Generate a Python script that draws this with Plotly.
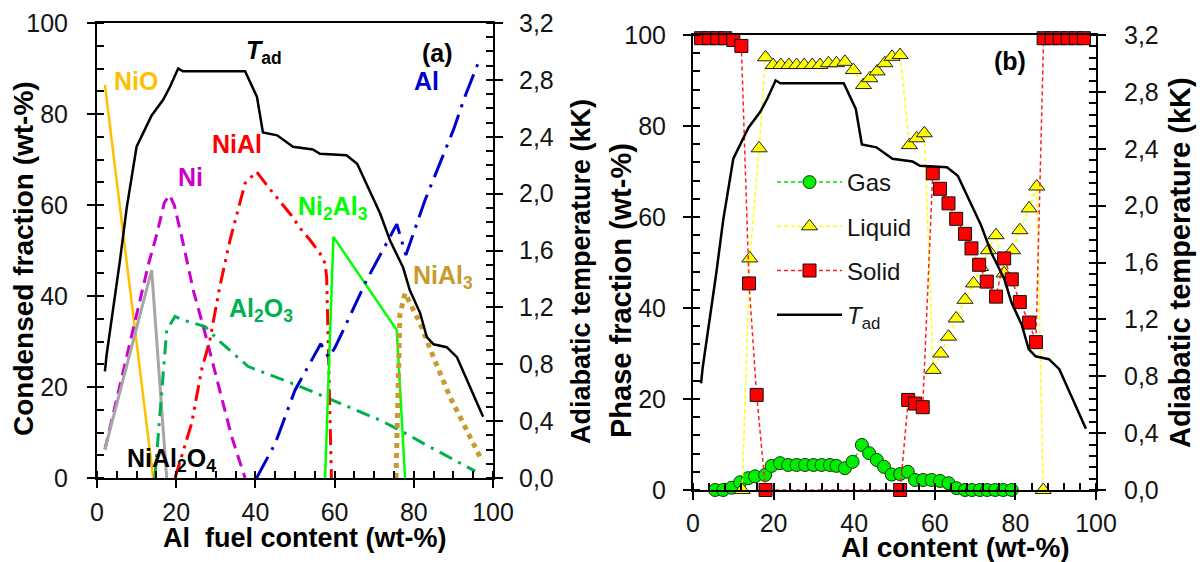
import plotly.graph_objects as go

W, H = 1202, 562
FONT = "Liberation Sans, Arial, sans-serif"

# ---------------- data: panel (a) ----------------
tad_x = [2, 2.4, 5.8, 7.5, 10, 13.8, 16.7, 18.4, 20.5, 21.7, 37.4, 40.4, 41.9, 45.5, 49.5, 54.5, 56.3,
         63, 65.7, 68.9, 71.5, 74, 77.3, 79, 81.6, 83.3, 85, 88.3, 90.9, 94.2, 97.5]
tad_kK = [0.75, 0.86, 1.53, 1.9, 2.33, 2.55, 2.66, 2.75, 2.88, 2.86, 2.86, 2.68, 2.43, 2.41, 2.33, 2.31, 2.28,
          2.27, 2.21, 2.02, 1.86, 1.67, 1.48, 1.32, 1.16, 0.99, 0.94, 0.92, 0.85, 0.64, 0.43]

nio_x = [2, 14.2]
nio_y = [86.4, 0]

ni_x = [2, 13, 15.1, 17, 18.3, 19.5, 21.4, 24.3, 27.3, 30.6, 34, 37.4]
ni_y = [6.3, 47, 53.6, 60.5, 62.2, 60, 53, 41.3, 31.8, 20.8, 9.1, 0]

nial2o4_x = [2, 13.8, 17.6]
nial2o4_y = [6.3, 45.7, 0]

al2o3_x = [14.6, 16.7, 17.6, 19.7, 21.8, 27.3, 30.6, 38.2, 47.5, 51.3, 61.4, 71.5, 76.5, 82.4, 95.5]
al2o3_y = [0, 23.7, 32.5, 35.5, 34.7, 33.3, 30.3, 24.5, 21.5, 20.1, 16.4, 12.7, 10.5, 7.6, 1.5]

nial_x = [19.7, 23.9, 26.4, 28.5, 31, 33.6, 37.4, 40.3, 43.2, 49, 51.3, 53.8, 56.3, 57.6, 58, 58.6, 59.2]
nial_y = [0, 12, 23.7, 30.3, 42, 52.3, 64.8, 67.3, 64, 57.8, 54.9, 52.3, 49.4, 47.2, 44, 20, 0]

ni2al3_x = [57.6, 59.7, 75.7, 77.8]
ni2al3_y = [0, 53, 32.5, 0]

al_x = [40.3, 45, 50, 56.5, 58.5, 60, 62.2, 68.1, 75.7, 78, 82.8, 90, 92.9, 96.7]
al_y = [0, 7.6, 19.3, 29.5, 26.5, 28.5, 32.5, 43.5, 55.8, 49, 61, 76.5, 83.8, 92.2]

nial3_x = [75.5, 76, 76.5, 77.8, 81.6, 84.9, 89.1, 92.5, 96.7]
nial3_y = [0, 20, 36, 40.6, 34, 26.7, 17.9, 12, 4.7]

# ---------------- data: panel (b) ----------------
gas_x = [5.5, 7.5, 9.6, 11.7, 13.7, 15.4, 17.9, 19.5, 21.6, 23.6, 25.7, 27.8, 29.9, 31.9, 34, 35.6, 37.7,
         39.6, 41.9, 43.7, 45.6, 47.4, 49.3, 51.4, 53.3, 55.1, 57.1, 59.2, 61.3, 63.4, 65.4, 67.5, 69.2,
         71.2, 73, 75, 77, 79.1]
gas_y = [0, 0, 0.5, 1.7, 2.6, 3, 3.3, 5.3, 5.9, 5.5, 5.5, 5.5, 5.5, 5.5, 5.5, 5.3, 4.8,
         6.2, 9.9, 8.1, 6.6, 5.1, 3.4, 3.5, 4, 2.2, 2.2, 2.2, 2, 1.5, 0.4, 0, 0,
         0, 0, 0, 0, 0]

liq_x = [12.2, 14.1, 16.4, 18, 19.9, 21.8, 23.8, 25.7, 27.6, 29.6, 31.5, 33.6, 35.6, 37.7, 39.8, 42.3,
         43.9, 45.7, 47.6, 49.4, 51.4, 53.7, 55.5, 57.4, 59.6, 61.5, 63.4, 65.3, 67.5, 69.6, 71.4, 73.3,
         75.2, 77.2, 79.3, 81.1, 83.4, 85.3, 86.9]
liq_y = [0, 50.9, 75.1, 95.1, 93.4, 93.4, 93.4, 93.4, 93.4, 93.4, 93.4, 93.8, 93.8, 94.1, 92.3, 89,
         90.5, 92, 93.8, 95.2, 95.6, 75.8, 77.3, 78.4, 26.4, 30, 33.7, 37.7, 41.8, 45.4, 49, 52.7,
         56, 47.6, 52.7, 57.1, 61.9, 66.7, 0]

sol_x = [2, 4, 6, 8, 10, 12, 13.9, 15.8, 18, 51.4, 53.4, 55.1, 57, 59.5, 61.3, 63.4, 65.3, 67.5, 69.1,
         71, 72.9, 75.2, 77.2, 79.1, 81.1, 83.4, 85.1, 87, 89, 91, 93, 95, 97]
sol_y = [99.3, 99.3, 99.3, 99.3, 98.9, 97.6, 45.4, 20.9, 0, 0, 19.8, 19, 18.2, 69.6, 66.2, 63, 59.6, 56.3,
         53.1, 49.5, 45.8, 42.5, 50.9, 46.3, 41.3, 36.8, 32.5, 99.3, 99.3, 99.3, 99.3, 99.3, 99.3]

tick_major = [0, 20, 40, 60, 80, 100]

fig = go.Figure()


def line(x, y, color, width, dash, xa, ya):
    fig.add_trace(go.Scatter(x=x, y=y, mode="lines", xaxis=xa, yaxis=ya, showlegend=False,
                             line=dict(color=color, width=width, dash=dash), hoverinfo="skip"))


# panel (a)
line(nio_x, nio_y, "#FFC000", 2.5, "solid", "x", "y")
line(ni_x, ni_y, "#CC00CC", 3, "12px,7px", "x", "y")
line(nial2o4_x, nial2o4_y, "#A6A6A6", 3, "solid", "x", "y")
line(al2o3_x, al2o3_y, "#00B050", 3, "14px,7px,3px,7px", "x", "y")
line(nial_x, nial_y, "#FF0000", 3, "16px,6px,3px,6px,3px,6px", "x", "y")
line(ni2al3_x, ni2al3_y, "#00FF00", 2.5, "solid", "x", "y")
line(al_x, al_y, "#0000CC", 3, "24px,8px,3px,8px", "x", "y")
line(nial3_x, nial3_y, "#C89B2E", 5, "5px,5px", "x", "y")
line(tad_x, tad_kK, "black", 2.5, "solid", "x", "y2")

# panel (b)
fig.add_trace(go.Scatter(x=gas_x, y=gas_y, name="Gas", mode="lines+markers", xaxis="x2", yaxis="y3",
                         legendgroup="g", cliponaxis=False,
                         line=dict(color="#00E000", width=1.5, dash="4px,3px"),
                         marker=dict(symbol="circle", size=13, color="#00EE00",
                                     line=dict(color="#0A3A0A", width=1))))
fig.add_trace(go.Scatter(x=liq_x, y=liq_y, name="Liquid", mode="lines+markers", xaxis="x2", yaxis="y3",
                         legendgroup="l", cliponaxis=False,
                         line=dict(color="#FFFF00", width=1.5, dash="4px,3px"),
                         marker=dict(symbol="triangle-up", size=14, color="#FFFF00",
                                     line=dict(color="#222", width=1))))
fig.add_trace(go.Scatter(x=sol_x, y=sol_y, name="Solid", mode="lines+markers", xaxis="x2", yaxis="y3",
                         legendgroup="s", cliponaxis=False,
                         line=dict(color="#FF2020", width=1.5, dash="4px,3px"),
                         marker=dict(symbol="square", size=13, color="#FF0000",
                                     line=dict(color="#111", width=1))))
fig.add_trace(go.Scatter(x=tad_x, y=tad_kK, name="<i>T</i><sub>ad</sub>", mode="lines", xaxis="x2",
                         yaxis="y4", legendgroup="t",
                         line=dict(color="black", width=2.5)))

tickfont = dict(family=FONT, size=25, color="#141414")
base = dict(showline=True, linecolor="black", linewidth=2, ticks="outside", ticklen=8, tickwidth=2,
            tickcolor="black", showgrid=False, zeroline=False, tickfont=tickfont, fixedrange=True,
            automargin=False)


def minor(dt):
    return dict(dtick=dt, tick0=0, ticks="inside", ticklen=7, tickwidth=1.5, tickcolor="black", showgrid=False)


dom_ax = [97 / W, 493 / W]
dom_ay = [1 - 478 / H, 1 - 23 / H]
dom_bx = [693 / W, 1096 / W]
dom_by = [1 - 490 / H, 1 - 35 / H]

fig.update_layout(
    width=W, height=H, margin=dict(l=0, r=0, t=0, b=0, autoexpand=False), autosize=False,
    paper_bgcolor="white", plot_bgcolor="white", separators=", ",
    xaxis=dict(base, domain=dom_ax, range=[0, 100], anchor="y", tickvals=tick_major, mirror=True,
               minor=minor(5), ticklabelstandoff=3),
    yaxis=dict(base, domain=dom_ay, range=[0, 100], anchor="x", tickvals=tick_major,
               minor=minor(5), ticklabelstandoff=14),
    yaxis2=dict(base, domain=dom_ay, range=[0, 3.2], anchor="x", overlaying="y", side="right",
                tickmode="linear", tick0=0, dtick=0.4, tickformat=".1f", minor=minor(0.1),
                ticklabelstandoff=11),
    xaxis2=dict(base, domain=dom_bx, range=[0, 100], anchor="y3", tickvals=tick_major, mirror=True,
                minor=minor(4), ticklabelstandoff=2),
    yaxis3=dict(base, domain=dom_by, range=[0, 100], anchor="x2", tickvals=tick_major,
                minor=minor(4), ticklabelstandoff=12),
    yaxis4=dict(base, domain=dom_by, range=[0, 3.2], anchor="x2", overlaying="y3", side="right",
                tickmode="linear", tick0=0, dtick=0.4, tickformat=".1f", minor=minor(0.08),
                ticklabelstandoff=13),
    legend=dict(x=772 / W, y=1 - 160 / H, xanchor="left", yanchor="top", itemwidth=65,
                tracegroupgap=10, traceorder="grouped", bgcolor="rgba(0,0,0,0)",
                font=dict(family=FONT, size=24, color="#141414")),
    showlegend=True,
)

# in-plot labels, panel (a)
labels_a = [
    ("<b>NiO</b>", 9.8, 87.3, "#FFC000"),
    ("<b><i>T</i><sub>ad</sub></b>", 42.2, 93.6, "black"),
    ("<b>NiAl</b>", 35.4, 73.4, "#FF0000"),
    ("<b>Ni</b>", 23.5, 66.2, "#CC00CC"),
    ("<b>(a)</b>", 85.9, 93.4, "black"),
    ("<b>Al</b>", 83.1, 87.3, "#0000CC"),
    ("<b>Ni<sub>2</sub>Al<sub>3</sub></b>", 59.6, 59.3, "#00FF00"),
    ("<b>NiAl<sub>3</sub></b>", 87.4, 44.2, "#C89B2E"),
    ("<b>Al<sub>2</sub>O<sub>3</sub></b>", 41.4, 36.9, "#00B050"),
    ("<b>NiAl<sub>2</sub>O<sub>4</sub></b>", 18.9, 4.0, "black"),
]
for txt, x, y, c in labels_a:
    fig.add_annotation(text=txt, x=x, y=y, xref="x", yref="y", showarrow=False,
                       font=dict(family=FONT, size=25, color=c))

fig.add_annotation(text="<b>(b)</b>", x=78.7, y=94.3, xref="x2", yref="y3", showarrow=False,
                   font=dict(family=FONT, size=25, color="black"))

# axis titles
titles = [
    ("<b>Condensed fraction (wt-%)</b>", 23, 259, -90, 28),
    ("<b>Al\u00a0 fuel content (wt-%)</b>", 304, 538, 0, 27),
    ("<b>Adiabatic temperature (kK)</b>", 581, 272, -90, 27),
    ("<b>Al content (wt-%)</b>", 955, 547, 0, 28),
    ("<b>Phase fraction (wt-%)</b>", 621, 291, -90, 29),
    ("<b>Adiabatic temperature (kK)</b>", 1180, 263, -90, 29),
]
for txt, px, py, ang, sz in titles:
    fig.add_annotation(text=txt, x=px / W, y=1 - py / H, xref="paper", yref="paper", showarrow=False,
                       textangle=ang, xanchor="center", yanchor="middle",
                       font=dict(family=FONT, size=sz, color="black"))

fig.write_html("out.html")
